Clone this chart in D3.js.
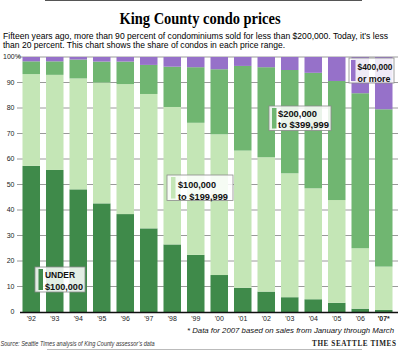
<!DOCTYPE html>
<html><head><meta charset="utf-8">
<script src="https://cdn.jsdelivr.net/npm/d3@7"></script>
<style>body{margin:0;background:#fff}svg{display:block}</style>
</head><body>
<svg id="c" width="400" height="355"></svg>
<script>
const years = ["'92","'93","'94","'95","'96","'97","'98","'99","'00","'01","'02","'03","'04","'05","'06","'07*"];
const under100 = [57.3,55.7,48.1,42.6,38.4,32.8,26.5,22.4,14.5,9.5,8.0,5.8,5.0,3.6,1.3,0.8];
const from100to200 = [36.0,37.3,43.5,47.4,51.0,52.7,53.9,51.8,55.2,53.8,52.7,48.6,43.5,40.3,23.7,17.0];
const from200to400 = [5.0,5.3,7.4,8.2,8.8,11.4,15.8,21.8,25.5,33.2,35.3,40.5,45.3,46.7,60.8,61.7];
const over400 = [1.7,1.7,1.0,1.8,1.8,3.1,3.8,4.0,4.8,3.5,4.0,5.1,6.2,9.4,14.2,20.5];
const yTicks = [0,10,20,30,40,50,60,70,80,90,100];
const seriesKeys = ["a","b","c","d"];
const seriesLabels = [["UNDER","$100,000"],["$100,000","to $199,999"],["$200,000","to $399,999"],["$400,000","or more"]];
const colors = ["#3f8a4a","#c4e6b6","#70b671","#9671c9"];

const rows = years.map((y,i)=>({year:y,a:under100[i],b:from100to200[i],c:from200to400[i],d:over400[i]}));
const svg = d3.select("#c");
const sans = "'Liberation Sans', Arial, sans-serif";

// top & bottom rules
svg.append("line").attr("x1",45).attr("x2",362).attr("y1",0.5).attr("y2",0.5).attr("stroke","#555").attr("stroke-width",1);
svg.append("line").attr("x1",47).attr("x2",362).attr("y1",349.5).attr("y2",349.5).attr("stroke","#bbb").attr("stroke-width",1);

// title
svg.append("text").attr("x",200).attr("y",24).attr("text-anchor","middle")
  .attr("font-family","'Liberation Serif', 'DejaVu Serif', serif").attr("font-weight","bold")
  .attr("font-size",17.5).attr("textLength",161).attr("lengthAdjust","spacingAndGlyphs")
  .text("King County condo prices");
svg.append("text").attr("x",3).attr("y",38.5).attr("font-family",sans).attr("font-size",8.6)
  .attr("textLength",385).attr("lengthAdjust","spacingAndGlyphs")
  .text("Fifteen years ago, more than 90 percent of condominiums sold for less than $200,000. Today, it\u2019s less");
svg.append("text").attr("x",3).attr("y",47.5).attr("font-family",sans).attr("font-size",8.6)
  .attr("textLength",282).attr("lengthAdjust","spacingAndGlyphs")
  .text("than 20 percent. This chart shows the share of condos in each price range.");

const x = d3.scaleBand().domain(years).range([19.5,395.5]).paddingInner(0.255).paddingOuter(0.1275);
const y = d3.scaleLinear().domain([0,100]).range([312,57]);

// gridlines
svg.append("g").selectAll("line").data(yTicks.filter(t=>t>0)).join("line")
  .attr("x1",17).attr("x2",398).attr("y1",d=>y(d)).attr("y2",d=>y(d))
  .attr("stroke","#9a9a9a").attr("stroke-width",1);

// y labels
svg.append("g").selectAll("text").data(yTicks).join("text")
  .attr("x",d=>d===100?3:14.5).attr("y",d=>y(d)).attr("dy","0.35em")
  .attr("text-anchor",d=>d===100?"start":"end")
  .attr("font-family",sans).attr("font-size",7).attr("fill","#222")
  .text(d=>d===100?"100%":d);

// bars
const stacked = d3.stack().keys(seriesKeys)(rows);
svg.append("g").selectAll("g").data(stacked).join("g").attr("fill",(d,i)=>colors[i])
  .selectAll("rect").data(d=>d).join("rect")
  .attr("x",d=>x(d.data.year)).attr("width",x.bandwidth())
  .attr("y",d=>y(d[1])).attr("height",d=>y(d[0])-y(d[1]));

// baseline axis
svg.append("line").attr("x1",20).attr("x2",398).attr("y1",312.5).attr("y2",312.5).attr("stroke","#111").attr("stroke-width",1.5);

// x labels
svg.append("g").selectAll("text").data(years).join("text")
  .attr("x",d=>x(d)+x.bandwidth()/2).attr("y",321).attr("text-anchor","middle")
  .attr("font-family",sans).attr("font-size",7).attr("fill","#222")
  .attr("font-weight",d=>d.includes("*")?"bold":"normal")
  .text(d=>d);

// legend boxes
const boxes = [
  {x:35,y:267,w:50,h:25,ty:[277.5,289.5],sx:38.5,tx:45,tw:[30,38]},
  {x:167,y:175,w:66,h:25.5,ty:[188,199.5],sx:171,tx:178,tw:[38,50]},
  {x:269,y:106,w:62,h:24.5,ty:[116.5,127.5],sx:272,tx:278,tw:[39,51]},
  {x:349,y:58,w:45,h:25,ty:[70,81.5],sx:351,tx:357.5,tw:[35,33]}
];
boxes.forEach((b,i)=>{
  const g = svg.append("g");
  g.append("rect").attr("x",b.x).attr("y",b.y).attr("width",b.w).attr("height",b.h)
    .attr("fill","rgba(255,255,255,0.85)").attr("stroke","#8a8a8a").attr("stroke-width",0.8);
  g.append("rect").attr("x",b.sx).attr("y",b.y+2).attr("width",4.5).attr("height",b.h-4).attr("fill",colors[i]);
  seriesLabels[i].forEach((t,j)=>{
    g.append("text").attr("x",b.tx).attr("y",b.ty[j]).attr("font-family",sans).attr("font-weight","bold")
      .attr("font-size",9.5).attr("fill","#111")
      .attr("textLength",b.tw[j]).attr("lengthAdjust","spacingAndGlyphs").text(t);
  });
});

// footnotes
svg.append("text").attr("x",394).attr("y",333).attr("text-anchor","end")
  .attr("font-family",sans).attr("font-style","italic").attr("font-size",7.5).attr("fill","#111")
  .attr("textLength",207).attr("lengthAdjust","spacingAndGlyphs")
  .text("* Data for 2007 based on sales from January through March");
svg.append("text").attr("x",0.5).attr("y",346).attr("font-family",sans).attr("font-style","italic")
  .attr("font-size",6.4).attr("fill","#333").attr("textLength",154).attr("lengthAdjust","spacingAndGlyphs")
  .text("Source: Seattle Times analysis of King County assessor\u2019s data");
svg.append("text").attr("x",396).attr("y",346).attr("text-anchor","end")
  .attr("font-family","'Liberation Serif', serif").attr("font-weight","bold")
  .attr("font-size",7.2).attr("fill","#222").attr("textLength",84).attr("lengthAdjust","spacing")
  .text("THE SEATTLE TIMES");
</script>
</body></html>
